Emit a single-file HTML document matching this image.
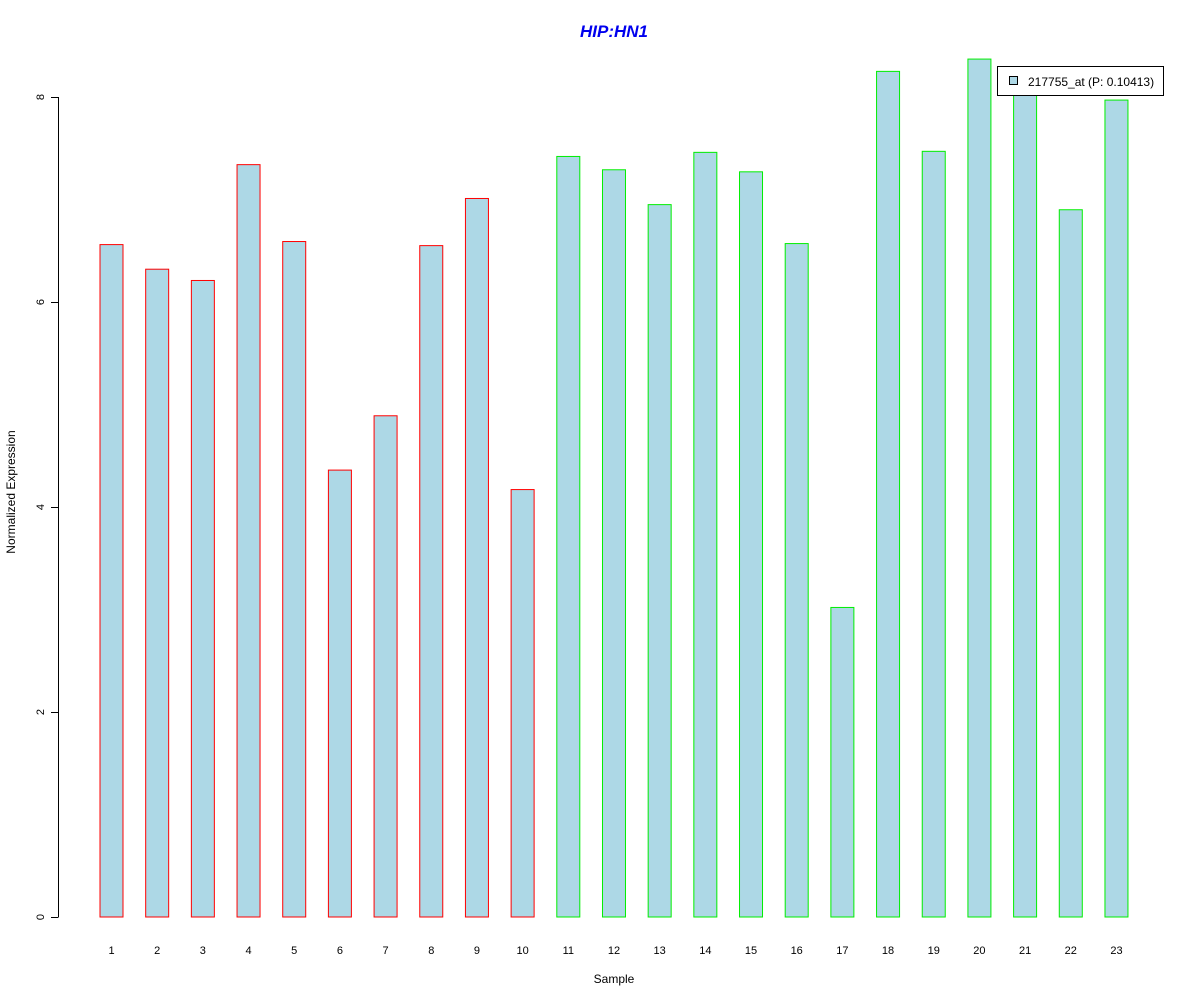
<!DOCTYPE html>
<html><head><meta charset="utf-8"><style>
body{margin:0;background:#fff}
svg{display:block;font-family:"Liberation Sans",Arial,sans-serif}
</style></head><body>
<svg id="chart" width="1200" height="1000" viewBox="0 0 1200 1000">
<rect width="1200" height="1000" fill="#fff"/>
<text x="614" y="37" text-anchor="middle" font-size="17" font-weight="bold" font-style="italic" fill="#0000ee">HIP:HN1</text>
<text x="614" y="983" text-anchor="middle" font-size="12">Sample</text>
<text transform="translate(15,492) rotate(-90)" text-anchor="middle" font-size="12">Normalized Expression</text>
<g id="yaxis"></g>
<g id="bars"></g>
<g id="xlabels"></g>
<g>
<rect x="997.5" y="66.5" width="166" height="29" fill="#fff" stroke="#000"/>
<rect x="1009.5" y="76.5" width="8" height="8" fill="#add8e6" stroke="#000"/>
<text x="1028" y="86" font-size="12">217755_at (P: 0.10413)</text>
</g>
</svg>
<script>
const categories=["1","2","3","4","5","6","7","8","9","10","11","12","13","14","15","16","17","18","19","20","21","22","23"];
const values=[6.56,6.32,6.21,7.34,6.59,4.36,4.89,6.55,7.01,4.17,7.42,7.29,6.95,7.46,7.27,6.57,3.02,8.25,7.47,8.37,8.02,6.90,7.97];
const groups=["a","a","a","a","a","a","a","a","a","a","b","b","b","b","b","b","b","b","b","b","b","b","b"];
const yTicks=[0,2,4,6,8];
const NS="http://www.w3.org/2000/svg";
const y=v=>917-v*102.5;
const x=i=>111.5+i*45.68;
const yax=document.getElementById('yaxis');
let ln=document.createElementNS(NS,'line');


ln.setAttribute('x1',58.5);ln.setAttribute('x2',58.5);ln.setAttribute('y1',y(0));ln.setAttribute('y2',y(8));ln.setAttribute('stroke','#000');
yax.appendChild(ln);
yTicks.forEach(t=>{
 const tk=document.createElementNS(NS,'line');
 
 
 tk.setAttribute('x1',51);tk.setAttribute('x2',58.5);tk.setAttribute('y1',Math.round(y(t))+0.5);tk.setAttribute('y2',Math.round(y(t))+0.5);tk.setAttribute('stroke','#000');
 yax.appendChild(tk);
 const tx=document.createElementNS(NS,'text');
 
 
 tx.setAttribute('transform',`translate(44,${y(t)}) rotate(-90)`);
 tx.setAttribute('text-anchor','middle');tx.setAttribute('font-size','11');
 tx.textContent=t;yax.appendChild(tx);
});
const bg=document.getElementById('bars'),xl=document.getElementById('xlabels');
values.forEach((v,i)=>{
 const r=document.createElementNS(NS,'rect');
 
 
 r.setAttribute('x',x(i)-11.5);r.setAttribute('width',23);
 r.setAttribute('y',y(v));r.setAttribute('height',y(0)-y(v));
 r.setAttribute('fill','#add8e6');r.setAttribute('stroke',groups[i]==='a'?'#ff0000':'#00ee00');
 bg.appendChild(r);
 const t=document.createElementNS(NS,'text');
 
 
 t.setAttribute('x',x(i));t.setAttribute('y',954);t.setAttribute('text-anchor','middle');t.setAttribute('font-size','11');
 t.textContent=categories[i];xl.appendChild(t);
});
</script>
</body></html>
